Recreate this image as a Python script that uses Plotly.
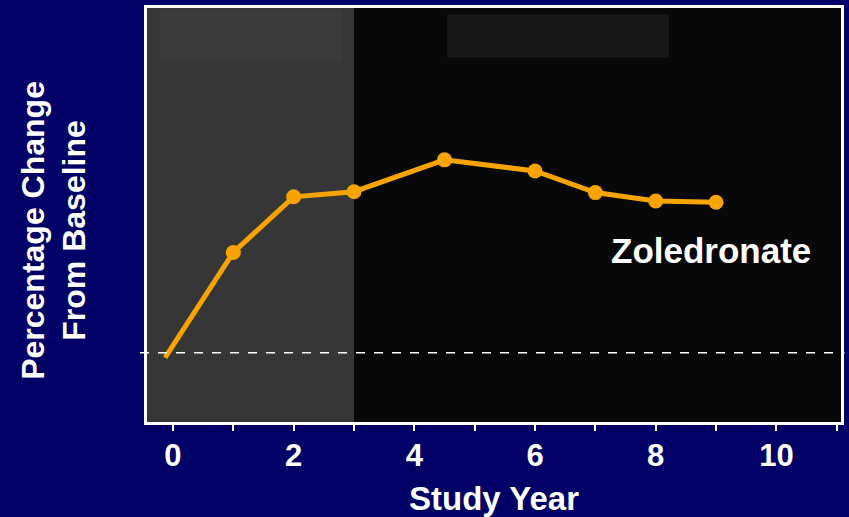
import plotly.graph_objects as go

# data (y in % change, 0 = baseline)
study_year = [-0.13, 1, 2, 3, 4.5, 6, 7, 8, 9]
pct_change = [-0.16, 3.34, 5.19, 5.36, 6.42, 6.05, 5.33, 5.05, 5.01]
tick_vals = [0, 2, 4, 6, 8, 10]
tick_text = ["0", "2", "4", "6", "8", "10"]
series_name = "Zoledronate"

NAVY = "#000066"
ORANGE = "#F7A400"
FONT = "Liberation Sans, Arial, sans-serif"

fig = go.Figure()

# the line itself (first point has no marker)
fig.add_trace(go.Scatter(x=study_year, y=pct_change, mode="lines",
                         line=dict(color=ORANGE, width=5), hoverinfo="skip"))
fig.add_trace(go.Scatter(x=study_year[1:], y=pct_change[1:], mode="markers",
                         marker=dict(color=ORANGE, size=15), name=series_name))

# shaded first period + faint boxes at the top
fig.add_shape(type="rect", xref="x", yref="paper", x0=-0.5, x1=3, y0=0, y1=1,
              fillcolor="#363636", line_width=0, layer="below")
fig.add_shape(type="rect", xref="x", yref="y", x0=-0.23, x1=2.8, y0=9.68, y1=11.42,
              fillcolor="#3a3a3a", line_width=0, layer="below")
fig.add_shape(type="rect", xref="x", yref="y", x0=4.54, x1=8.22, y0=9.82, y1=11.25,
              fillcolor="#181818", line_width=0, layer="below")

# baseline
fig.add_shape(type="line", xref="paper", yref="y", x0=-0.01, x1=1.005, y0=0, y1=0,
              line=dict(color="white", width=1.5, dash="dash"))

fig.add_annotation(x=8.92, y=3.4, xref="x", yref="y", text="<b>Zoledronate</b>",
                   showarrow=False, font=dict(color="white", size=35, family=FONT))
fig.add_annotation(x=-0.135, y=0.4625, xref="paper", yref="paper", textangle=-90,
                   xanchor="center", yanchor="middle",
                   text="<b>Percentage Change<br>From Baseline</b>", showarrow=False,
                   font=dict(color="white", size=32, family=FONT))

fig.update_layout(
    width=849, height=517,
    margin=dict(l=147, r=5, t=8, b=91),
    paper_bgcolor=NAVY, plot_bgcolor="#080808",
    showlegend=False,
    font=dict(family=FONT, color="white"),
)
fig.update_xaxes(
    range=[-0.43, 11.07], tickvals=tick_vals, ticktext=tick_text,
    ticks="outside", ticklen=6, tickwidth=2, tickcolor="white",
    minor=dict(dtick=1, tick0=0, ticks="outside", ticklen=6, tickwidth=2, tickcolor="white"),
    tickfont=dict(size=31, family=FONT, weight="bold"), ticklabelstandoff=-2,
    showgrid=False, zeroline=False,
    showline=True, linecolor="white", linewidth=3, mirror=True,
    title=dict(text="<b>Study Year</b>", font=dict(size=33, family=FONT), standoff=16),
)
fig.update_yaxes(
    range=[-2.3, 11.47], showticklabels=False, ticks="",
    showgrid=False, zeroline=False,
    showline=True, linecolor="white", linewidth=3, mirror=True,
)

fig.write_html("out.html", config={"displayModeBar": False},
               post_script="document.body.style.margin='0';")
